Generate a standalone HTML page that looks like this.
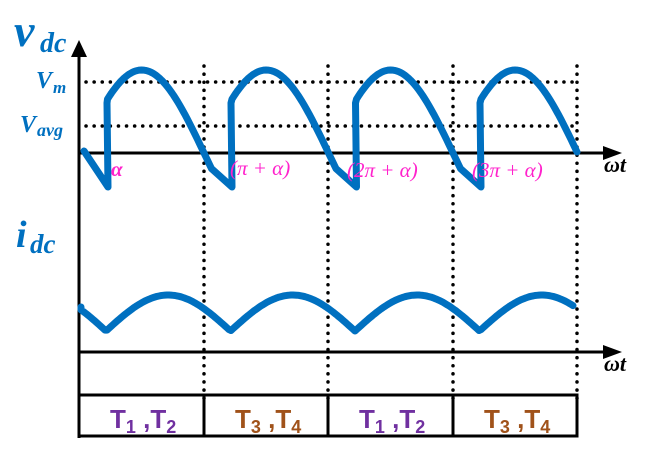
<!DOCTYPE html>
<html><head><meta charset="utf-8"><style>
body{margin:0;background:#fff;width:651px;height:453px;overflow:hidden}
svg{display:block}
.b{fill:#0070c0;font-family:"Liberation Serif",serif;font-style:italic;font-weight:bold}
.m{fill:#ff22cc;font-family:"Liberation Serif",serif;font-style:italic;font-size:21px}
.k{font-family:"Liberation Sans",sans-serif;font-size:26px;font-weight:bold}
</style></head><body>
<svg id="s" width="651" height="453" viewBox="0 0 651 453">
<g stroke="#000" stroke-width="3.5" stroke-dasharray="0.1 8" stroke-linecap="round" fill="none">
<line x1="86" y1="82" x2="580" y2="82"/><line x1="86" y1="126" x2="580" y2="126"/>
<line x1="204" y1="66" x2="204" y2="400"/><line x1="328" y1="66" x2="328" y2="400"/>
<line x1="453" y1="66" x2="453" y2="400"/><line x1="577" y1="66" x2="577" y2="400"/>
</g>
<g stroke="#000" stroke-width="3" fill="none">
<line x1="79" y1="55" x2="79" y2="438"/>
<line x1="79" y1="153" x2="605" y2="153"/>
<line x1="79" y1="352" x2="605" y2="352"/>
<rect x="79" y="395" width="498" height="41"/>
<line x1="204" y1="395" x2="204" y2="436"/><line x1="328" y1="395" x2="328" y2="436"/><line x1="453" y1="395" x2="453" y2="436"/>
</g>
<polygon points="79,40 71,57 87,57" fill="#000"/>
<polygon points="622,153 603,146 603,160" fill="#000"/>
<polygon points="622,352 603,345 603,359" fill="#000"/>
<path id="v" fill="none" stroke="#0070c0" stroke-width="7" stroke-linejoin="round" stroke-linecap="round"/>
<path id="i" fill="none" stroke="#0070c0" stroke-width="7" stroke-linejoin="round" stroke-linecap="round"/>
<text class="b" x="14" y="46" font-size="46">v</text><text class="b" x="40" y="52" font-size="28">dc</text>
<text class="b" x="36" y="88" font-size="24">V</text><text class="b" x="53" y="93" font-size="17">m</text>
<text class="b" x="20" y="132" font-size="24">V</text><text class="b" x="37" y="136" font-size="18">avg</text>
<text class="b" x="16" y="247" font-size="38">i</text><text class="b" x="30" y="253" font-size="27">dc</text>
<text x="604" y="172" font-family="Liberation Serif,serif" font-style="italic" font-weight="bold" font-size="22">ωt</text>
<text x="604" y="371" font-family="Liberation Serif,serif" font-style="italic" font-weight="bold" font-size="22">ωt</text>
<text class="m" x="111" y="176" font-size="26" font-weight="bold">α</text>
<text class="m" x="230" y="175">(π + α)</text>
<text class="m" x="347" y="177">(2π + α)</text>
<text class="m" x="472" y="177">(3π + α)</text>
<g class="k">
<text x="110" y="428" fill="#7030a0">T<tspan font-size="18" dy="5">1</tspan><tspan dy="-5"> ,T</tspan><tspan font-size="18" dy="5">2</tspan></text>
<text x="235" y="428" fill="#a0521a">T<tspan font-size="18" dy="5">3</tspan><tspan dy="-5"> ,T</tspan><tspan font-size="18" dy="5">4</tspan></text>
<text x="359" y="428" fill="#7030a0">T<tspan font-size="18" dy="5">1</tspan><tspan dy="-5"> ,T</tspan><tspan font-size="18" dy="5">2</tspan></text>
<text x="484" y="428" fill="#a0521a">T<tspan font-size="18" dy="5">3</tspan><tspan dy="-5"> ,T</tspan><tspan font-size="18" dy="5">4</tspan></text>
</g>
</svg>
<script>
var P=124.5,x0=79.5,d="M84,151 L108,187 L107,103 ";
for(var k=0;k<4;k++){
 var a=x0+k*P+28, z=x0+(k+1)*P, e=(k<3)?z+28:578;
 if(k>0)d+="L"+(a-1)+",103 ";
 for(var x=a;x<=Math.min(e,z+8);x+=2){var t=(x-x0-k*P)/P*Math.PI;var y=153-83*Math.sin(t);d+="L"+x.toFixed(1)+","+y.toFixed(1)+" ";}
 if(k<3)d+="L"+e.toFixed(1)+",187 ";
}
document.getElementById("v").setAttribute("d",d);
var di="M81,307 ";
for(var x=81;x<=573;x+=2){var t=(x-106)/P*Math.PI;var y=331-36*Math.abs(Math.sin(t));di+="L"+x+","+y.toFixed(1)+" ";}
document.getElementById("i").setAttribute("d",di);
</script>
</body></html>
